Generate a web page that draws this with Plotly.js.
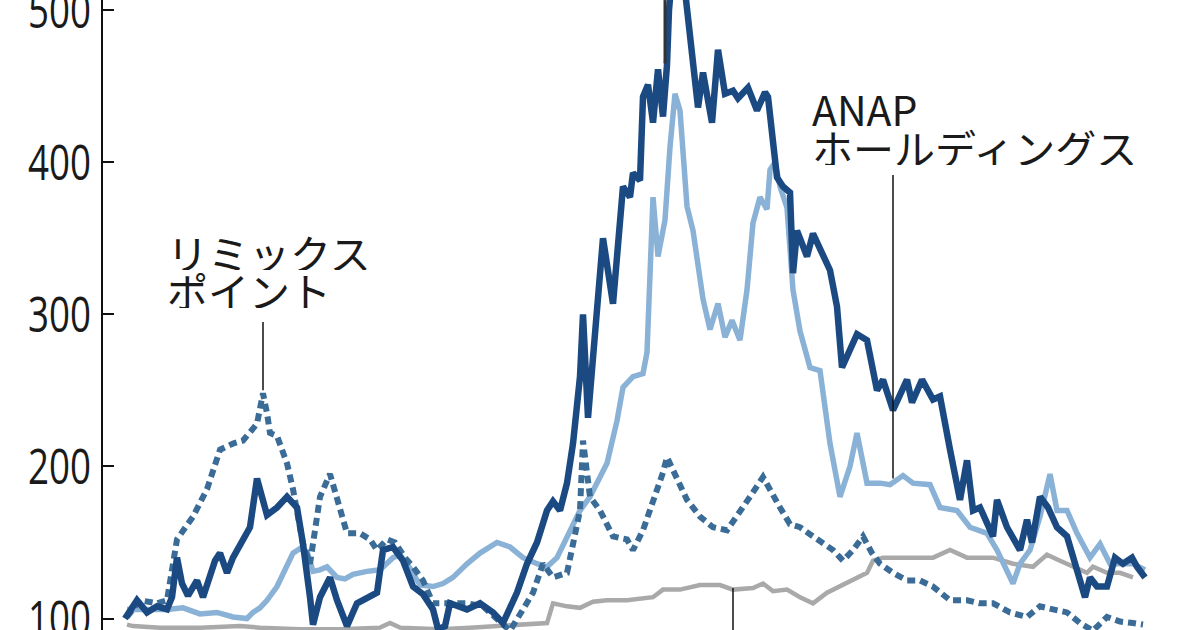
<!DOCTYPE html>
<html>
<head>
<meta charset="utf-8">
<script src="https://cdn.plot.ly/plotly-3.0.1.min.js"></script>
<style>html,body{margin:0;padding:0;background:#fff;}#chart{width:1200px;height:630px;}</style>
</head>
<body>
<div id="chart"></div>
<script>
// Trading-day position (t) and indexed price values
const darkT = [0,12,22,32,42,47,52,57,63,72,78,90,95,102,108,118,125,132,142,152,162,172,178,185,188,195,205,212,222,232,242,252,258,268,278,288,298,308,313,320,325,342,355,368,378,392,402,412,422,428,435,442,448,455,458,463,472,478,488,498,505,508,515,518,523,528,533,538,542,544,552,561,568,573,578,587,593,600,608,613,623,632,640,643,652,658,665,668,672,682,688,698,705,712,717,732,742,752,758,768,782,787,797,808,815,825,835,842,848,855,868,872,882,895,902,907,915,923,932,942,952,960,965,972,982,990,998,1007,1012,1020];
const darkV = [100,112,104,108,106,114,140,123,115,125,114,138,143,130,140,152,160,192,168,173,180,173,149,114,96,114,127,112,95,110,114,117,145,147,138,121,116,106,93,95,110,106,110,104,97,117,136,150,171,177,171,189,215,259,300,232,303,350,307,384,377,393,388,443,451,426,461,430,464,500,560,506,459,436,459,426,474,445,447,442,449,434,446,443,390,384,380,327,355,338,353,340,329,305,265,287,283,250,257,237,257,242,257,244,246,211,178,204,171,173,154,178,160,145,165,150,180,173,160,154,130,114,127,121,121,140,136,140,134,127];

const anapT = [2,42,58,75,92,108,122,128,135,142,152,158,168,175,182,188,195,202,212,220,228,242,255,268,275,285,295,308,318,328,342,355,372,385,398,412,422,432,442,455,465,482,492,498,508,518,522,525,528,533,540,545,550,555,562,568,578,585,593,600,607,615,622,628,635,642,645,650,655,662,668,675,685,695,705,715,725,732,742,755,765,778,788,805,815,832,845,862,872,888,895,905,915,925,932,942,952,965,975,985,998,1008,1020];
const anapV = [106,106,107,103,104,101,100,104,107,112,121,130,143,146,144,131,132,134,127,126,129,131,132,140,142,133,122,121,123,127,136,143,150,147,140,136,134,140,154,171,180,202,230,252,259,261,275,320,377,338,362,410,445,434,371,355,310,290,307,285,296,283,316,360,377,369,395,400,384,370,316,289,265,263,215,180,200,222,189,189,188,194,189,188,173,171,160,156,145,123,136,145,167,195,171,171,156,140,149,136,136,136,132];

const remixT = [2,15,32,42,52,68,82,95,108,118,132,138,142,145,152,162,168,178,185,195,205,212,222,235,245,252,262,270,280,288,298,308,325,342,358,372,385,398,408,418,428,442,448,455,458,462,465,475,488,502,508,518,528,538,542,552,562,575,588,602,612,625,638,645,655,665,675,688,708,718,728,738,747,755,768,782,795,808,825,842,855,868,885,902,915,928,942,955,968,982,995,1008,1018];
const remixV = [101,112,110,112,152,167,185,211,215,217,228,248,235,222,220,202,185,149,136,180,195,180,156,156,152,145,152,150,140,134,125,110,110,110,108,99,92,106,117,136,127,130,150,171,217,193,180,171,154,152,145,158,176,196,206,193,178,167,160,158,167,180,193,184,173,162,160,154,145,138,145,154,143,136,130,125,125,121,112,112,110,110,104,101,108,106,104,97,92,101,98,97,96];

const greyT = [2,8,35,75,115,135,175,215,255,265,275,315,345,378,395,422,428,442,455,468,482,502,528,538,555,575,595,608,628,638,648,662,675,688,702,715,728,742,748,758,775,808,825,842,868,888,908,922,935,948,962,968,982,995,1008];
const greyV = [96,95,94,94,95,94,93,93,94,97,94,93,94,95,96,97,110,108,107,111,112,112,114,119,119,122,122,119,120,123,118,119,114,110,117,121,125,130,138,140,140,140,145,140,140,136,134,142,138,134,130,134,130,130,127];

const yTicks = [100,200,300,400,500];
const labelRemix = ["リミックス","ポイント"];
const labelAnap = ["ANAP","ホールディングス"];

const traces = [
  {x: greyT, y: greyV, mode:'lines', line:{color:'#a9a9a9', width:4.5}, hoverinfo:'skip'},
  {x: anapT, y: anapV, mode:'lines', line:{color:'#8ab2d6', width:5.5}, hoverinfo:'skip'},
  {x: remixT, y: remixV, mode:'lines', line:{color:'#3a6c97', width:6, dash:'8px,5px'}, hoverinfo:'skip'},
  {x: darkT, y: darkV, mode:'lines', line:{color:'#1b4a82', width:6.5}, hoverinfo:'skip'}
];

const jp = {family:'"Noto Sans CJK JP", "Noto Sans", sans-serif', size:41, color:'#1a1a1a'};
function ann(x, y, text){
  return {x:x, y:y, xref:'x', yref:'y', text:text, showarrow:false, xanchor:'left', yanchor:'middle',
          height:37, valign:'middle', font:jp};
}
function leader(x, y0, y1, w, c){
  return {type:'line', xref:'x', yref:'y', x0:x, x1:x, y0:y0, y1:y1, line:{color:c||'#111', width:w||1.5}};
}

const layout = {
  width:1200, height:630,
  margin:{l:103, r:0, t:0, b:0},
  paper_bgcolor:'#fff', plot_bgcolor:'#fff',
  showlegend:false,
  xaxis:{range:[-22,1075], visible:false, showgrid:false, zeroline:false},
  yaxis:{range:[92.44,506.64], tickvals:yTicks, ticktext:yTicks.map(String),
         ticks:'inside', ticklen:11, tickwidth:2, tickcolor:'#111',
         showline:true, linecolor:'#111', linewidth:2,
         showgrid:false, zeroline:false, ticklabeloverflow:'allow',
         tickfont:{family:'"Open Sans", "DejaVu Sans", sans-serif', size:50, color:'#1a1a1a'}},
  shapes:[
    leader(138, 295, 250),
    leader(768, 391.6, 192),
    leader(608, 120, 92.4),
    leader(540, 506.6, 465, 3, '#333')
  ],
  annotations:[
    ann(40, 341, labelRemix[0]),
    ann(40, 316, labelRemix[1]),
    ann(685, 436, labelAnap[0]),
    ann(685, 410.5, labelAnap[1])
  ]
};

Plotly.newPlot('chart', traces, layout, {staticPlot:true, displayModeBar:false}).then(function(gd){
  // condense the tick labels horizontally, like the narrow face of the original
  gd.querySelectorAll('.ytick text').forEach(function(t){
    t.setAttribute('textLength', String(21 * t.textContent.length));
    t.setAttribute('lengthAdjust', 'spacingAndGlyphs');
  });
});
</script>
</body>
</html>
